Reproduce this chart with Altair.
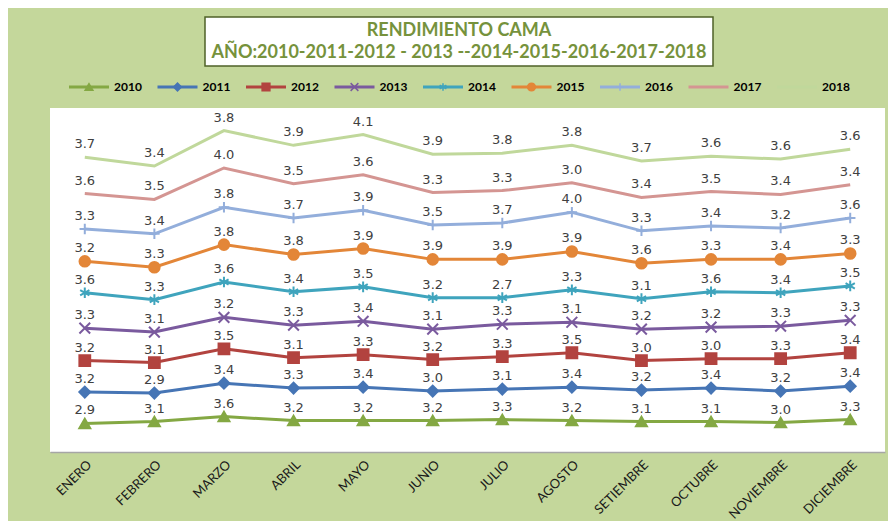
import altair as alt
import pandas as pd

MONTHS = ["ENERO", "FEBRERO", "MARZO", "ABRIL", "MAYO", "JUNIO", "JULIO",
          "AGOSTO", "SETIEMBRE", "OCTUBRE", "NOVIEMBRE", "DICIEMBRE"]
YEARS = ["2010", "2011", "2012", "2013", "2014", "2015", "2016", "2017", "2018"]

V2010 = [2.9, 3.1, 3.6, 3.2, 3.2, 3.2, 3.3, 3.2, 3.1, 3.1, 3.0, 3.3]
V2011 = [3.2, 2.9, 3.4, 3.3, 3.4, 3.0, 3.1, 3.4, 3.2, 3.4, 3.2, 3.4]
V2012 = [3.2, 3.1, 3.5, 3.1, 3.3, 3.2, 3.3, 3.5, 3.0, 3.0, 3.3, 3.4]
V2013 = [3.3, 3.1, 3.2, 3.3, 3.4, 3.1, 3.3, 3.1, 3.2, 3.2, 3.3, 3.3]
V2014 = [3.6, 3.3, 3.6, 3.4, 3.5, 3.2, 2.7, 3.3, 3.1, 3.6, 3.4, 3.5]
V2015 = [3.2, 3.3, 3.8, 3.8, 3.9, 3.9, 3.9, 3.9, 3.6, 3.3, 3.4, 3.3]
V2016 = [3.3, 3.4, 3.8, 3.7, 3.9, 3.5, 3.7, 4.0, 3.3, 3.4, 3.2, 3.6]
V2017 = [3.6, 3.5, 4.0, 3.5, 3.6, 3.3, 3.3, 3.0, 3.4, 3.5, 3.4, 3.4]
V2018 = [3.7, 3.4, 3.8, 3.9, 4.1, 3.9, 3.8, 3.8, 3.7, 3.6, 3.6, 3.6]
SERIES = [V2010, V2011, V2012, V2013, V2014, V2015, V2016, V2017, V2018]

COLORS = ["#84A843", "#4675B5", "#B2433F", "#7A5A9E", "#3FA4BD",
          "#E38638", "#93AEDB", "#D49592", "#C0D89B"]

MARKER_YEARS = ["2010", "2011", "2012", "2013", "2014", "2015", "2016"]
MARKER_SHAPES = [
    "triangle-up", "diamond", "square",
    "M-1,-1L1,1M-1,1L1,-1",
    "M0,-1L0,1M-0.87,-0.5L0.87,0.5M-0.87,0.5L0.87,-0.5",
    "circle",
    "M-1,0L1,0M0,-1L0,1",
]
MARKER_SIZES = [120, 110, 150, 121, 144, 210, 144]

TITLE1 = "RENDIMIENTO CAMA"
TITLE2 = "AÑO:2010-2011-2012 - 2013 --2014-2015-2016-2017-2018"

rows = []
for yr, vals in zip(YEARS, SERIES):
    for m, v in zip(MONTHS, vals):
        rows.append({"year": yr, "month": m, "value": v})
df = pd.DataFrame(rows)

color_scale = alt.Scale(domain=YEARS, range=COLORS)
shape_scale = alt.Scale(domain=MARKER_YEARS, range=MARKER_SHAPES)

base = alt.Chart(df).transform_window(
    cum="sum(value)", groupby=["month"], sort=[alt.SortField("year")], frame=[None, 0]
)

x = alt.X("month:N", sort=MONTHS, scale=alt.Scale(domain=MONTHS, padding=0.5),
          axis=alt.Axis(title=None, labelAngle=-45, labelFont="Lato", labelFontSize=13,
                        labelColor="#1a1a1a", domainColor="#A6A6A6", domainWidth=1.5,
                        ticks=False, grid=False, labelPadding=6))
y = alt.Y("cum:Q", scale=alt.Scale(domain=[0, 35], nice=False, zero=True), axis=None)

lines = base.mark_line(strokeWidth=3).encode(
    x=x, y=y, color=alt.Color("year:N", scale=color_scale, legend=None)
)

markers = base.transform_filter(
    alt.FieldOneOfPredicate(field="year", oneOf=MARKER_YEARS)
).mark_point(filled=True, opacity=1, strokeWidth=2).encode(
    x=x, y=y,
    fill=alt.Fill("year:N", scale=color_scale, legend=None),
    stroke=alt.Stroke("year:N", scale=color_scale, legend=None),
    shape=alt.Shape("year:N", scale=shape_scale, legend=None),
    size=alt.Size("year:O", scale=alt.Scale(domain=MARKER_YEARS, range=MARKER_SIZES), legend=None),
)

labels = base.mark_text(baseline="bottom", dy=-6, fontSize=13, font="DejaVu Sans",
                        color="#404040").encode(
    x=x, y=y, text=alt.Text("value:Q", format=".1f")
)

main = alt.layer(lines, markers, labels)

# legend
leg_df = pd.DataFrame({"year": YEARS, "idx": list(range(len(YEARS)))})
leg = alt.Chart(leg_df).transform_calculate(
    lx="19 + datum.idx * 88.5"
).transform_calculate(
    lx2="datum.lx + 40"
).transform_calculate(
    mx="datum.lx + 20"
).transform_calculate(
    tx="datum.lx + 45"
)
leg_lines = leg.mark_rule(strokeWidth=3).encode(
    x=alt.X("lx:Q", scale=None, axis=None), x2="lx2:Q", y=alt.value(-21),
    color=alt.Color("year:N", scale=color_scale, legend=None),
)
leg_pts = leg.transform_filter(
    alt.FieldOneOfPredicate(field="year", oneOf=MARKER_YEARS)
).mark_point(filled=True, opacity=1, strokeWidth=1.5).encode(
    x=alt.X("mx:Q", scale=None, axis=None), y=alt.value(-21),
    fill=alt.Fill("year:N", scale=color_scale, legend=None),
    stroke=alt.Stroke("year:N", scale=color_scale, legend=None),
    shape=alt.Shape("year:N", scale=shape_scale, legend=None),
    size=alt.value(60),
)
leg_txt = leg.mark_text(align="left", baseline="middle", fontWeight="bold", fontSize=12,
                        font="Lato", color="black").encode(
    x=alt.X("tx:Q", scale=None, axis=None), y=alt.value(-21), text="year:N"
)

one = alt.Data(values=[{"t1": TITLE1, "t2": TITLE2}])
border = alt.Chart(one).mark_rect(fillOpacity=0, stroke="#808080", strokeWidth=1.5).encode(
    x=alt.value(-44), x2=alt.value(900), y=alt.value(-102), y2=alt.value(500)
)
box = alt.Chart(one).mark_rect(fill="white", stroke="#4F6228", strokeWidth=1.5).encode(
    x=alt.value(155), x2=alt.value(663), y=alt.value(-91), y2=alt.value(-42)
)
t1 = alt.Chart(one).mark_text(font="Lato", fontSize=18, fontWeight="bold", color="#76923C",
                              baseline="middle").encode(
    x=alt.value(409), y=alt.value(-77), text="t1:N"
)
t2 = alt.Chart(one).mark_text(font="Lato", fontSize=18, fontWeight="bold", color="#76923C",
                              baseline="middle").encode(
    x=alt.value(409), y=alt.value(-55), text="t2:N"
)

chart = alt.layer(
    border, box, t1, t2, main, leg_lines, leg_pts, leg_txt
).resolve_scale(x="independent").properties(
    width=835, height=344,
    autosize=alt.AutoSizeParams(type="none"),
    padding={"left": 42, "top": 100, "right": 3, "bottom": 69},
).configure(background="#C4D79B").configure_view(fill="white", stroke=None)

chart.save("out.html", embed_options={"renderer": "svg", "actions": False})
